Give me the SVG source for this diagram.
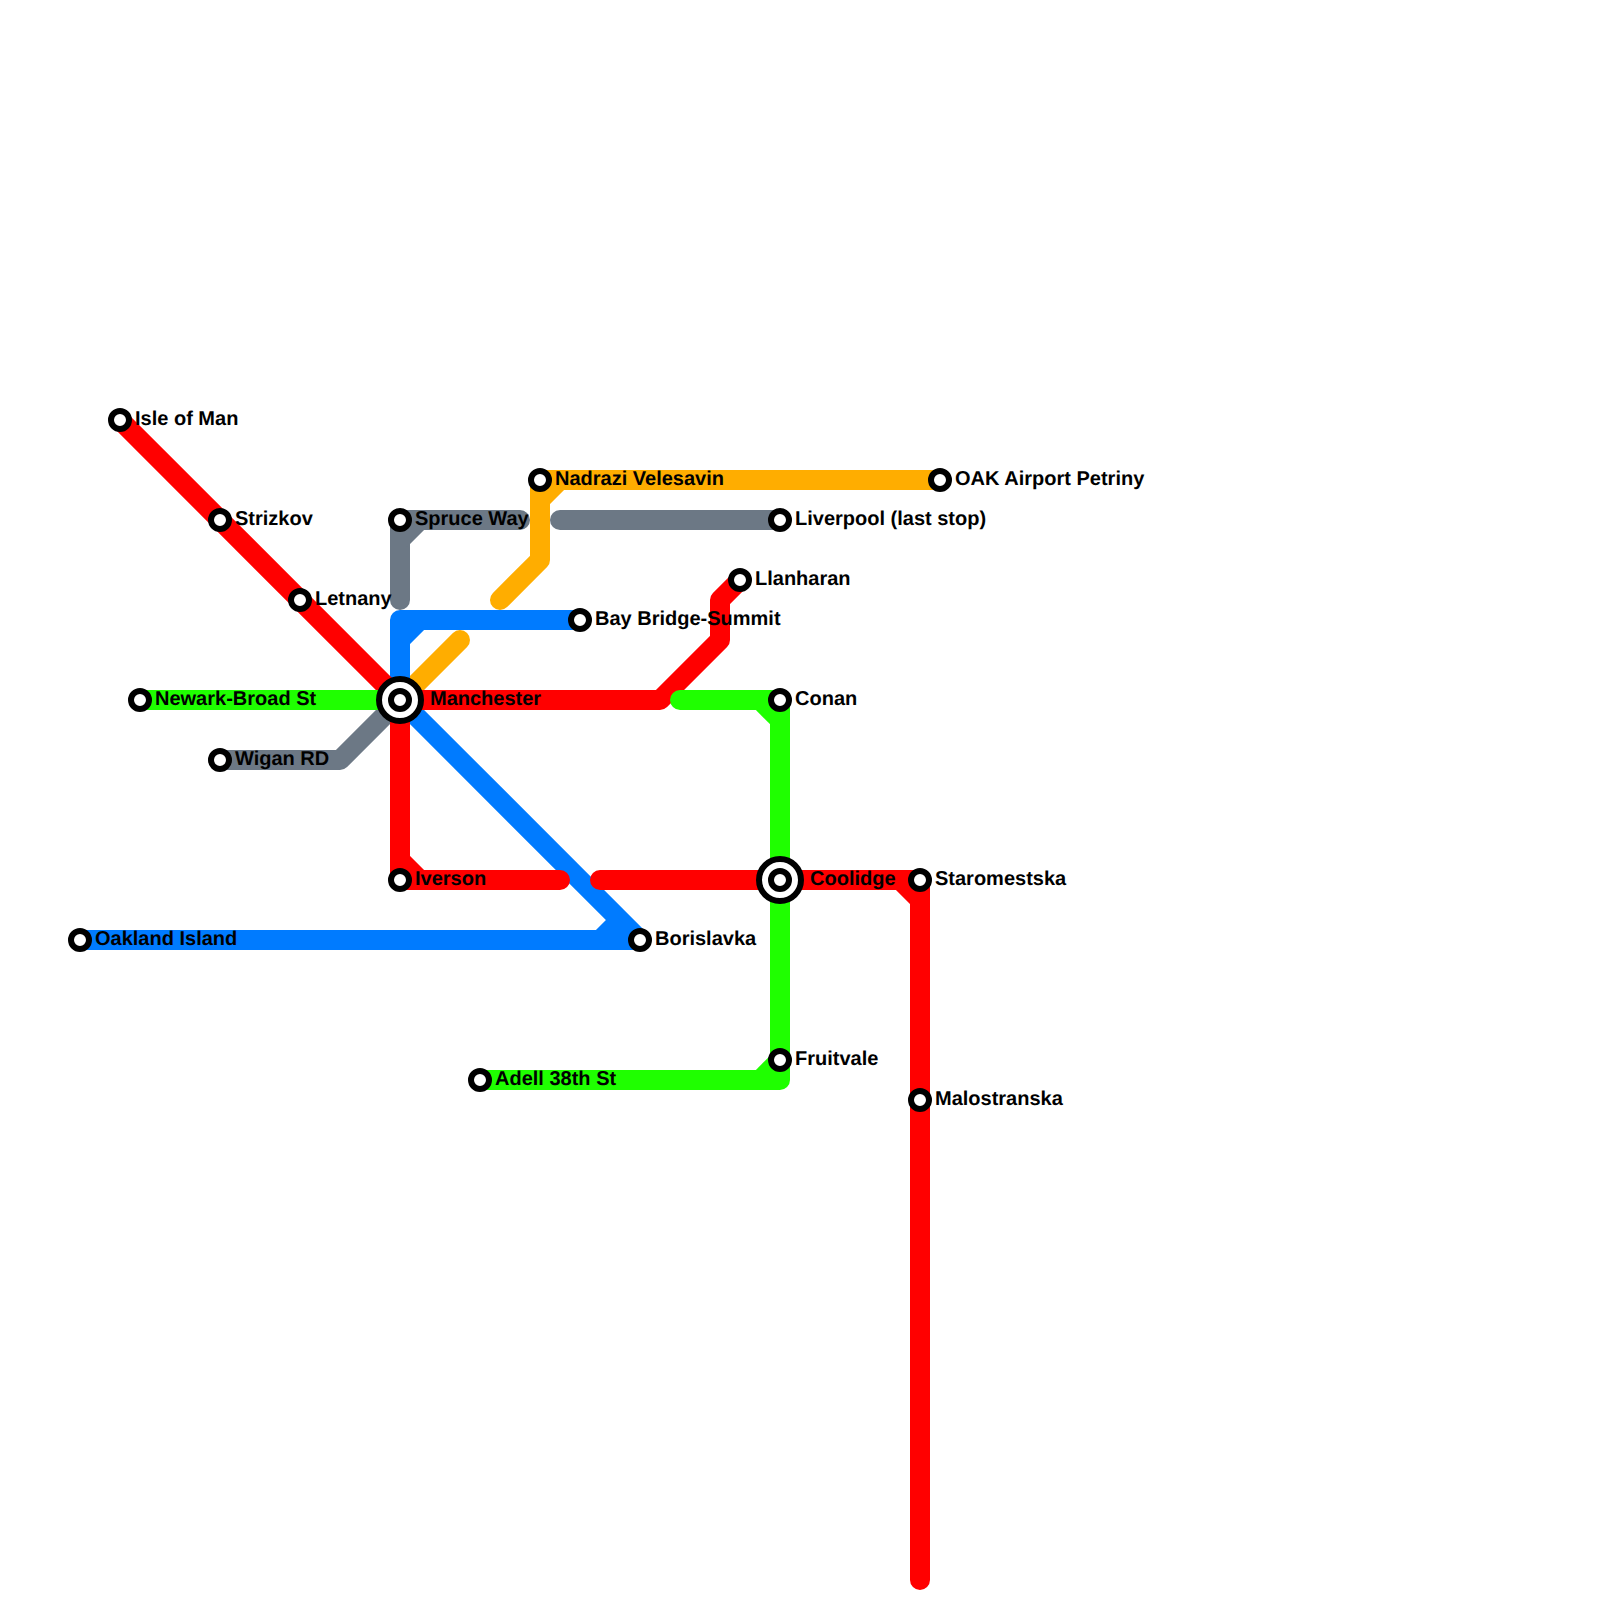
<svg xmlns="http://www.w3.org/2000/svg" width="1600" height="1600" viewBox="0 0 1600 1600">
<style>
.l{fill:none;stroke-width:20;stroke-linecap:round;stroke-linejoin:round}
.c{fill:none;stroke-width:20;stroke-linecap:butt}
.blue{stroke:#007bff}.red{stroke:#ff0000}.green{stroke:#1fff00}.grey{stroke:#6c7885}.orange{stroke:#ffad00}
.s{fill:#fff;stroke:#000;stroke-width:6}
.x{fill:#fff;stroke:#000;stroke-width:6}
text{font-family:"Liberation Sans",Arial,sans-serif;font-weight:700;font-size:20px;fill:#000;text-rendering:geometricPrecision}
</style>
<rect width="1600" height="1600" fill="#fff"/>
<g id="connectors">
<path class="l grey" d="M400 600V520H520"/><path class="c grey" d="M400 540L420 520"/>
<path class="l grey" d="M560 520H780"/>
<path class="l grey" d="M220 760H340L400 700"/>
<path class="l orange" d="M500 600L540 560V480H940"/><path class="c orange" d="M540 500L560 480"/>
<path class="l orange" d="M400 700L460 640"/>
<path class="l blue" d="M400 700V620H580"/><path class="c blue" d="M400 640L420 620"/>
<path class="l blue" d="M400 700L640 940H80"/><path class="c blue" d="M600 940L620 920"/>
<path class="l red" d="M120 420L400 700H660L720 640V600L740 580"/>
<path class="l red" d="M400 700V880H560"/><path class="c red" d="M400 860L420 880"/>
<path class="l red" d="M600 880H920V1580"/><path class="c red" d="M900 880L920 900"/>
<path class="l green" d="M140 700H400"/>
<path class="l green" d="M680 700H780V1080H480"/><path class="c green" d="M760 700L780 720"/><path class="c green" d="M760 1080L780 1060"/>
</g>
<g id="isle-of-man"><circle class="s" cx="120" cy="420" r="9"/><text x="135" y="424.5">Isle of Man</text></g>
<g id="strizkov"><circle class="s" cx="220" cy="520" r="9"/><text x="235" y="524.5">Strizkov</text></g>
<g id="letnany"><circle class="s" cx="300" cy="600" r="9"/><text x="315" y="604.5">Letnany</text></g>
<g id="newark-broad-st"><circle class="s" cx="140" cy="700" r="9"/><text x="155" y="704.5">Newark-Broad St</text></g>
<g id="wigan-rd"><circle class="s" cx="220" cy="760" r="9"/><text x="235" y="764.5">Wigan RD</text></g>
<g id="oakland-island"><circle class="s" cx="80" cy="940" r="9"/><text x="95" y="944.5">Oakland Island</text></g>
<g id="iverson"><circle class="s" cx="400" cy="880" r="9"/><text x="415" y="884.5">Iverson</text></g>
<g id="spruce-way"><circle class="s" cx="400" cy="520" r="9"/><text x="415" y="524.5">Spruce Way</text></g>
<g id="nadrazi-velesavin"><circle class="s" cx="540" cy="480" r="9"/><text x="555" y="484.5">Nadrazi Velesavin</text></g>
<g id="oak-airport-petriny"><circle class="s" cx="940" cy="480" r="9"/><text x="955" y="484.5">OAK Airport Petriny</text></g>
<g id="liverpool"><circle class="s" cx="780" cy="520" r="9"/><text x="795" y="524.5">Liverpool (last stop)</text></g>
<g id="llanharan"><circle class="s" cx="740" cy="580" r="9"/><text x="755" y="584.5">Llanharan</text></g>
<g id="bay-bridge-summit"><circle class="s" cx="580" cy="620" r="9"/><text x="595" y="624.5">Bay Bridge-Summit</text></g>
<g id="conan"><circle class="s" cx="780" cy="700" r="9"/><text x="795" y="704.5">Conan</text></g>
<g id="manchester"><circle class="x" cx="400" cy="700" r="21"/><circle class="s" cx="400" cy="700" r="9"/><text x="430" y="704.5">Manchester</text></g>
<g id="coolidge"><circle class="x" cx="780" cy="880" r="21"/><circle class="s" cx="780" cy="880" r="9"/><text x="810" y="884.5">Coolidge</text></g>
<g id="staromestska"><circle class="s" cx="920" cy="880" r="9"/><text x="935" y="884.5">Staromestska</text></g>
<g id="malostranska"><circle class="s" cx="920" cy="1100" r="9"/><text x="935" y="1104.5">Malostranska</text></g>
<g id="fruitvale"><circle class="s" cx="780" cy="1060" r="9"/><text x="795" y="1064.5">Fruitvale</text></g>
<g id="adell-38th-st"><circle class="s" cx="480" cy="1080" r="9"/><text x="495" y="1084.5">Adell 38th St</text></g>
<g id="borislavka"><circle class="s" cx="640" cy="940" r="9"/><text x="655" y="944.5">Borislavka</text></g>
</svg>
